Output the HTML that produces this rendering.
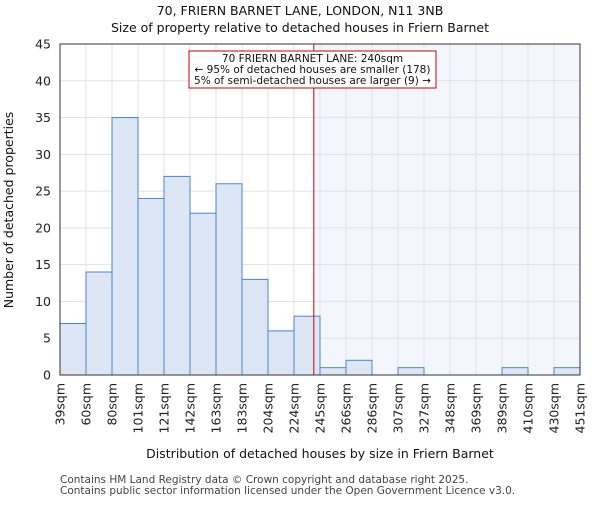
<!DOCTYPE html><html><head><meta charset="utf-8"><style>body{margin:0;background:#fff}svg{font-family:"DejaVu Sans","Liberation Sans",sans-serif}</style></head><body>
<svg id="c" width="600" height="500" xmlns="http://www.w3.org/2000/svg"></svg>
<script>
const categories=["39sqm","60sqm","80sqm","101sqm","121sqm","142sqm","163sqm","183sqm","204sqm","224sqm","245sqm","266sqm","286sqm","307sqm","327sqm","348sqm","369sqm","389sqm","410sqm","430sqm","451sqm"];
const edgeValues=[39,60,80,101,121,142,163,183,204,224,245,266,286,307,327,348,369,389,410,430,451];
const counts=[7,14,35,24,27,22,26,13,6,8,1,2,0,1,0,0,0,1,0,1];
const yTicks=[0,5,10,15,20,25,30,35,40,45];
const propertyValue=240;
const L=60,R=580,T=44,B=375,yMax=45;
const s=document.getElementById('c');const ns='http://www.w3.org/2000/svg';
function el(t,a,p){const e=document.createElementNS(ns,t);for(const k in a)e.setAttribute(k,a[k]);(p||s).appendChild(e);return e;}
const bw=(R-L)/counts.length;
const xi=i=>L+i*bw;
const y=v=>B-(v/yMax)*(B-T);
function xv(v){for(let i=0;i<edgeValues.length-1;i++){if(v<=edgeValues[i+1])return xi(i)+bw*(v-edgeValues[i])/(edgeValues[i+1]-edgeValues[i]);}return R;}
const px=xv(propertyValue);
let e=el('rect',{x:px,y:T,width:R-px,height:B-T,fill:'#f4f6fd'});
yTicks.forEach(t=>{let g=el('line',{x1:L,x2:R,y1:y(t),y2:y(t),stroke:'#e2e2e2','stroke-width':1});
let tx=el('text',{x:L-9,y:y(t)+4.5,'text-anchor':'end','font-size':12.5,fill:'#222'});tx.textContent=t;});
categories.forEach((c,i)=>{let g=el('line',{x1:xi(i),x2:xi(i),y1:T,y2:B,stroke:'#e2e2e2','stroke-width':1});
let tx=el('text',{transform:`translate(${xi(i)+4.5},${B+8}) rotate(-90)`,'text-anchor':'end','font-size':12.5,fill:'#222'});tx.textContent=c;});
counts.forEach((v,i)=>{if(v<=0)return;let r=el('rect',{x:xi(i),y:y(v),width:bw,height:B-y(v),fill:'#dce6f5',stroke:'#4a86d0','stroke-width':1});});
e=el('rect',{x:L,y:T,width:R-L,height:B-T,fill:'none',stroke:'#333','stroke-width':1});
e=el('line',{x1:px,x2:px,y1:T,y2:B,stroke:'#cc0000','stroke-width':1});
e=el('rect',{x:189,y:51,width:247,height:37,fill:'#fff',stroke:'#cc0000','stroke-width':1});
["70 FRIERN BARNET LANE: 240sqm","← 95% of detached houses are smaller (178)","5% of semi-detached houses are larger (9) →"].forEach((t,i)=>{let tx=el('text',{x:312.5,y:62+i*11,'text-anchor':'middle','font-size':10.5,fill:'#111'});tx.textContent=t;});
function txt(t,a,n){let tx=el('text',a);tx.textContent=t;}
txt("70, FRIERN BARNET LANE, LONDON, N11 3NB",{x:300,y:15,'text-anchor':'middle','font-size':12.5,fill:'#111'},'chart-title');
txt("Size of property relative to detached houses in Friern Barnet",{x:300,y:32,'text-anchor':'middle','font-size':12.5,fill:'#111'},'chart-subtitle');
txt("Distribution of detached houses by size in Friern Barnet",{x:320,y:458,'text-anchor':'middle','font-size':12.5,fill:'#111'},'x-axis-title');
txt("Number of detached properties",{transform:'translate(13,210) rotate(-90)','text-anchor':'middle','font-size':12.5,fill:'#111'},'y-axis-title');
txt("Contains HM Land Registry data © Crown copyright and database right 2025.",{x:60,y:483,'font-size':10.5,fill:'#444'},'footer-line-1');
txt("Contains public sector information licensed under the Open Government Licence v3.0.",{x:60,y:494,'font-size':10.5,fill:'#444'},'footer-line-2');
</script></body></html>
